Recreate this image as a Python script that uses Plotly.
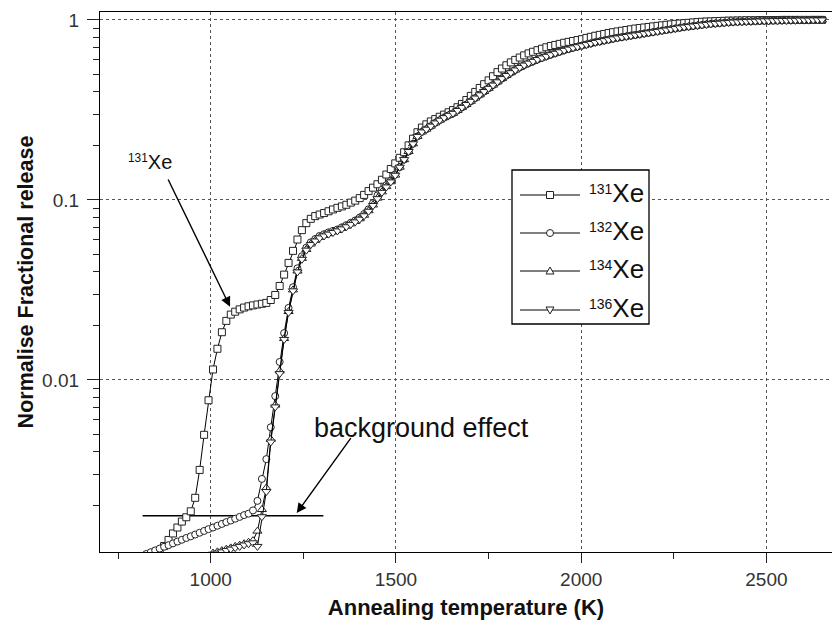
import math
import plotly.graph_objects as go

# Annealing temperature grid (K), one reading every 12 K
temperature_K = [
    826, 838, 850, 862, 874, 886, 898, 910, 922, 934, 946, 958,
    970, 982, 994, 1006, 1018, 1030, 1042, 1054, 1066, 1078, 1090, 1102,
    1114, 1126, 1138, 1150, 1162, 1174, 1186, 1198, 1210, 1222, 1234, 1246,
    1258, 1270, 1282, 1294, 1306, 1318, 1330, 1342, 1354, 1366, 1378, 1390,
    1402, 1414, 1426, 1438, 1450, 1462, 1474, 1486, 1498, 1510, 1522, 1534,
    1546, 1558, 1570, 1582, 1594, 1606, 1618, 1630, 1642, 1654, 1666, 1678,
    1690, 1702, 1714, 1726, 1738, 1750, 1762, 1774, 1786, 1798, 1810, 1822,
    1834, 1846, 1858, 1870, 1882, 1894, 1906, 1918, 1930, 1942, 1954, 1966,
    1978, 1990, 2002, 2014, 2026, 2038, 2050, 2062, 2074, 2086, 2098, 2110,
    2122, 2134, 2146, 2158, 2170, 2182, 2194, 2206, 2218, 2230, 2242, 2254,
    2266, 2278, 2290, 2302, 2314, 2326, 2338, 2350, 2362, 2374, 2386, 2398,
    2410, 2422, 2434, 2446, 2458, 2470, 2482, 2494, 2506, 2518, 2530, 2542,
    2554, 2566, 2578, 2590, 2602, 2614, 2626, 2638, 2650,
]

# Normalised fractional release, stored as decades (log10 of the fraction)
xe131_log = [
    -3.05, -3.01, -2.98, -2.955, -2.923, -2.889, -2.853, -2.82, -2.787, -2.763, -2.73, -2.655,
    -2.50, -2.305, -2.113, -1.942, -1.827, -1.735, -1.672, -1.637, -1.621, -1.608, -1.598, -1.591,
    -1.586, -1.581, -1.577, -1.572, -1.556, -1.528, -1.478, -1.415, -1.35, -1.283, -1.22, -1.168,
    -1.129, -1.105, -1.09, -1.081, -1.073, -1.063, -1.053, -1.044, -1.036, -1.027, -1.015, -1.004,
    -0.99, -0.972, -0.951, -0.932, -0.913, -0.888, -0.859, -0.828, -0.797, -0.766, -0.735, -0.697,
    -0.66, -0.624, -0.598, -0.58, -0.564, -0.551, -0.538, -0.526, -0.513, -0.501, -0.485, -0.467,
    -0.445, -0.422, -0.4, -0.378, -0.357, -0.336, -0.313, -0.29, -0.27, -0.252, -0.236, -0.222,
    -0.209, -0.197, -0.186, -0.177, -0.168, -0.16, -0.152, -0.145, -0.139, -0.133, -0.127, -0.122,
    -0.117, -0.112, -0.107, -0.1, -0.094, -0.088, -0.083, -0.078, -0.073, -0.068, -0.064, -0.06,
    -0.056, -0.052, -0.048, -0.045, -0.042, -0.039, -0.036, -0.033, -0.03, -0.027, -0.025, -0.022,
    -0.02, -0.018, -0.016, -0.014, -0.012, -0.01, -0.009, -0.008, -0.007, -0.006, -0.005, -0.004,
    -0.004, -0.003, -0.003, -0.002, -0.002, -0.002, -0.001, -0.001, -0.001, -0.001, -0.001, 0.0,
    0.0, 0.0, 0.0, 0.0, 0.0, 0.0, 0.0, 0.0, 0.0,
]

# 132Xe below 1510 K
xe132_low_log = [
    -2.967, -2.957, -2.947, -2.937, -2.927, -2.918, -2.908, -2.898, -2.888, -2.878, -2.869, -2.859,
    -2.849, -2.839, -2.829, -2.82, -2.81, -2.80, -2.79, -2.781, -2.771, -2.761, -2.751, -2.743,
    -2.725, -2.672, -2.55, -2.44, -2.263, -2.09, -1.9, -1.74, -1.60, -1.485, -1.38, -1.313,
    -1.265, -1.236, -1.217, -1.2, -1.19, -1.18, -1.172, -1.164, -1.152, -1.14, -1.127, -1.114,
    -1.098, -1.078, -1.052, -1.018, -0.975, -0.944, -0.918, -0.893, -0.858,
]

# 134Xe and 136Xe from 994 K up to 1510 K
xe134_low_log = [
    -3.0, -2.962, -2.955, -2.948, -2.94, -2.933, -2.925, -2.918, -2.91, -2.902, -2.893, -2.84,
    -2.72, -2.6, -2.33, -2.14, -1.95, -1.77, -1.62, -1.5, -1.395, -1.325, -1.275, -1.245,
    -1.225, -1.208, -1.197, -1.187, -1.178, -1.17, -1.158, -1.146, -1.133, -1.12, -1.105, -1.085,
    -1.06, -1.028, -0.99, -0.955, -0.926, -0.899, -0.862,
]
xe136_low_log = [
    -3.01, -2.968, -2.962, -2.955, -2.948, -2.94, -2.932, -2.925, -2.917, -2.91, -2.905, -2.925,
    -2.76, -2.62, -2.345, -2.15, -1.965, -1.775, -1.625, -1.505, -1.4, -1.33, -1.279, -1.248,
    -1.228, -1.211, -1.2, -1.19, -1.181, -1.172, -1.161, -1.149, -1.136, -1.122, -1.107, -1.088,
    -1.063, -1.031, -0.993, -0.958, -0.928, -0.9, -0.863,
]

# Above 1510 K the 132, 134 and 136 isotopes follow one common curve
heavy_tail_log = [
    -0.818, -0.776, -0.731, -0.688, -0.647, -0.622, -0.607, -0.59, -0.572, -0.557, -0.543, -0.53,
    -0.519, -0.503, -0.486, -0.47, -0.452, -0.434, -0.416, -0.398, -0.38, -0.362, -0.344, -0.326,
    -0.309, -0.293, -0.278, -0.264, -0.251, -0.24, -0.23, -0.22, -0.211, -0.202, -0.193, -0.185,
    -0.177, -0.169, -0.162, -0.155, -0.149, -0.143, -0.137, -0.131, -0.125, -0.12, -0.115, -0.11,
    -0.105, -0.1, -0.096, -0.092, -0.088, -0.084, -0.08, -0.076, -0.072, -0.068, -0.064, -0.06,
    -0.056, -0.052, -0.048, -0.044, -0.04, -0.037, -0.034, -0.031, -0.028, -0.025, -0.022, -0.02,
    -0.018, -0.016, -0.014, -0.012, -0.011, -0.01, -0.009, -0.008, -0.007, -0.006, -0.005, -0.005,
    -0.004, -0.004, -0.003, -0.003, -0.002, -0.002, -0.001, -0.001, -0.001, 0.0, 0.0, 0.0,
]

isotope_labels = ["131", "132", "134", "136"]
isotope_symbols = ["square", "circle", "triangle-up", "triangle-down"]

# Background level marked by the horizontal bar
background_T = [816, 1304]
background_level = [0.00176, 0.00176]

# Annotation anchors (temperature K, fraction)
label131_at = (836, 0.163)
arrow131_tail = (883, 0.1324)
arrow131_tip = (1052, 0.0255)
bg_label_at = (1272, 0.0054)
bg_arrow_tail = (1381, 0.00484)
bg_arrow_tip = (1232, 0.00182)


def to_fraction(logs):
    return [10 ** v for v in logs]


series = [
    (temperature_K, to_fraction(xe131_log)),
    (temperature_K, to_fraction(xe132_low_log + heavy_tail_log)),
    (temperature_K[14:], to_fraction(xe134_low_log + heavy_tail_log)),
    (temperature_K[14:], to_fraction(xe136_low_log + heavy_tail_log)),
]

fig = go.Figure()

fig.add_trace(go.Scatter(
    x=background_T, y=background_level, mode="lines",
    line=dict(color="black", width=1.5), showlegend=False, hoverinfo="skip",
))

for (tx, vy), lab, sym in zip(series, isotope_labels, isotope_symbols):
    fig.add_trace(go.Scatter(
        x=tx, y=vy, mode="lines+markers", name=lab + "Xe", showlegend=False,
        line=dict(color="black", width=1),
        marker=dict(symbol=sym, size=7 if sym in ("square", "circle") else 8,
                    color="white", line=dict(color="#222", width=1)),
    ))

# Plot-area geometry in pixels, used to place the legend box
W, H = 832, 628
ML, MR, MT, MB = 100, 0, 12, 76
PW, PH = W - ML - MR, H - MT - MB


def px_x(p):
    return (p - ML) / PW


def px_y(p):
    return (H - MB - p) / PH


shapes = []
shapes.append(dict(type="rect", xref="paper", yref="paper",
                   x0=px_x(512), x1=px_x(649), y0=px_y(324), y1=px_y(170),
                   line=dict(color="black", width=1.3), fillcolor="white", layer="above"))
row_y = [195, 233, 271, 310]
mx = 550
annotations = []
for ry, lab, sym in zip(row_y, isotope_labels, isotope_symbols):
    shapes.append(dict(type="line", xref="paper", yref="paper",
                       x0=px_x(520), x1=px_x(580), y0=px_y(ry), y1=px_y(ry),
                       line=dict(color="black", width=1), layer="above"))
    mk = dict(xref="paper", yref="paper", fillcolor="white",
              line=dict(color="#222", width=1), layer="above")
    if sym == "square":
        shapes.append(dict(type="rect", x0=px_x(mx - 3.5), x1=px_x(mx + 3.5),
                           y0=px_y(ry + 3.5), y1=px_y(ry - 3.5), **mk))
    elif sym == "circle":
        shapes.append(dict(type="circle", x0=px_x(mx - 3.5), x1=px_x(mx + 3.5),
                           y0=px_y(ry + 3.5), y1=px_y(ry - 3.5), **mk))
    else:
        d = 1 if sym == "triangle-up" else -1
        p = [(mx - 4, ry + 3 * d), (mx + 4, ry + 3 * d), (mx, ry - 4 * d)]
        path = "M {} {} L {} {} L {} {} Z".format(
            px_x(p[0][0]), px_y(p[0][1]), px_x(p[1][0]), px_y(p[1][1]),
            px_x(p[2][0]), px_y(p[2][1]))
        shapes.append(dict(type="path", path=path, **mk))
    annotations.append(dict(
        xref="paper", yref="paper", x=px_x(587), y=px_y(ry - 2),
        xanchor="left", yanchor="middle", showarrow=False,
        text='<span style="font-size:20px"><sup>' + lab + '</sup></span>Xe',
        font=dict(family="Liberation Sans, Arial", size=26, color="#111"),
    ))

# In-plot labels and arrows
annotations.append(dict(
    x=label131_at[0], y=math.log10(label131_at[1]), xref="x", yref="y",
    showarrow=False, xanchor="center", yanchor="middle",
    text='<span style="font-size:17px"><sup>131</sup></span>Xe',
    font=dict(family="Liberation Sans, Arial", size=20, color="#111"),
))
annotations.append(dict(
    x=arrow131_tip[0], y=math.log10(arrow131_tip[1]), xref="x", yref="y",
    ax=arrow131_tail[0], ay=math.log10(arrow131_tail[1]), axref="x", ayref="y",
    text="", showarrow=True, arrowhead=2, arrowsize=1.4, arrowwidth=1.4,
    arrowcolor="black",
))
annotations.append(dict(
    x=bg_label_at[0], y=math.log10(bg_label_at[1]), xref="x", yref="y",
    showarrow=False, xanchor="left", yanchor="middle",
    text="background effect",
    font=dict(family="Liberation Sans, Arial", size=27, color="#111"),
))
annotations.append(dict(
    x=bg_arrow_tip[0], y=math.log10(bg_arrow_tip[1]), xref="x", yref="y",
    ax=bg_arrow_tail[0], ay=math.log10(bg_arrow_tail[1]), axref="x", ayref="y",
    text="", showarrow=True, arrowhead=2, arrowsize=1.4, arrowwidth=1.4,
    arrowcolor="black",
))

tick_font = dict(family="Liberation Sans, Arial", size=19, color="#333")
x_title_font = dict(family="Liberation Sans, Arial", size=22, color="#111", weight="bold")
y_title_font = dict(family="Liberation Sans, Arial", size=21.5, color="#111", weight="bold")

fig.update_layout(
    width=W, height=H,
    margin=dict(l=ML, r=MR, t=MT, b=MB, autoexpand=False),
    paper_bgcolor="white", plot_bgcolor="white",
    shapes=shapes, annotations=annotations,
    showlegend=False,
)

fig.update_xaxes(
    range=[701, 2677], showline=True, linecolor="black", linewidth=1.3, mirror=True,
    ticks="outside", ticklen=10, tickwidth=1.3, tickcolor="#222",
    tickvals=[1000, 1500, 2000, 2500], ticktext=["1000", "1500", "2000", "2500"],
    tickfont=tick_font, showgrid=True, gridcolor="#555", griddash="dot", gridwidth=1,
    zeroline=False,
    minor=dict(tickmode="array", tickvals=[750, 1250, 1750, 2250], ticks="outside",
               ticklen=6, tickwidth=1.3, tickcolor="#222", showgrid=False),
    title=dict(text="Annealing temperature (K)", font=x_title_font, standoff=10),
)

minor_y = [a * 10 ** e for e in (-3, -2, -1) for a in range(2, 10)]
fig.update_yaxes(
    type="log", range=[-2.956, 0.044], showline=True, linecolor="black", linewidth=1.3,
    mirror=False, ticks="outside", ticklen=12, tickwidth=1.3, tickcolor="#222",
    tickvals=[0.01, 0.1, 1], ticktext=["0.01", "0.1", "1"], tickfont=tick_font,
    ticklabelstandoff=4,
    showgrid=True, gridcolor="#555", griddash="dot", gridwidth=1, zeroline=False,
    minor=dict(tickmode="array", tickvals=minor_y, ticks="outside", ticklen=6,
               tickwidth=1.3, tickcolor="#222", showgrid=False),
    title=dict(text="Normalise Fractional release", font=y_title_font, standoff=2),
)

fig.write_html("out.html")
